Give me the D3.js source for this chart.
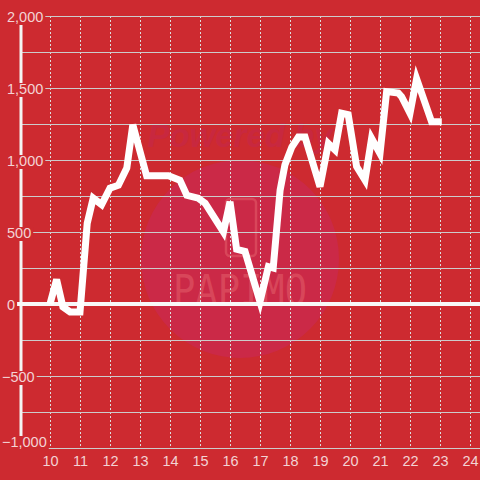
<!DOCTYPE html>
<html>
<head>
<meta charset="utf-8">
<script src="https://cdn.jsdelivr.net/npm/d3@7"></script>
<style>
  html, body { margin: 0; padding: 0; background: #cd2a30; }
  svg { display: block; }
</style>
</head>
<body>
<div id="chart"></div>
<script>
// hours of the day and running value
const times = [10.0, 10.22, 10.43, 10.67, 11.0, 11.24, 11.44, 11.72, 12.0, 12.28, 12.56, 12.76,
  13.22, 13.95, 14.33, 14.56, 14.94, 15.17, 15.78, 16.0, 16.22, 16.5, 17.0, 17.28, 17.44,
  17.67, 17.83, 18.06, 18.28, 18.5, 19.0, 19.28, 19.5, 19.72, 19.94, 20.22, 20.5, 20.72,
  21.0, 21.22, 21.61, 21.72, 22.0, 22.22, 22.72, 23.06]
const values = [0, 170, -20, -55, -55, 560, 735, 690, 805, 825, 945, 1245,
  890, 890, 860, 755, 735, 700, 500, 710, 380, 365, 15, 260, 250,
  790, 965, 1090, 1160, 1160, 815, 1115, 1070, 1325, 1315, 955, 860, 1150,
  1045, 1475, 1465, 1440, 1325, 1565, 1265, 1265]

const xTicks = [10, 11, 12, 13, 14, 15, 16, 17, 18, 19, 20, 21, 22, 23, 24]
const yTicks = [-1000, -500, 0, 500, 1000, 1500, 2000]
const yGrid = [-1000, -750, -500, -250, 0, 250, 500, 750, 1000, 1250, 1500, 1750, 2000]

const width = 480
const height = 480
const bg = '#cd2a30'

const x = d3.scaleLinear().domain([10, 24]).range([50, 470])
const y = d3.scaleLinear().domain([-1000, 2000]).range([448, 16])

const svg = d3.select('#chart').append('svg')
  .attr('width', width)
  .attr('height', height)
  .attr('xmlns', 'http://www.w3.org/2000/svg')

svg.append('rect').attr('width', width).attr('height', height).attr('fill', bg)

// --- watermark ---
const wm = svg.append('g')
wm.append('circle').attr('cx', 240).attr('cy', 259).attr('r', 99).attr('fill', '#cb2947')
wm.append('text')
  .attr('x', 240).attr('y', 147)
  .attr('text-anchor', 'middle')
  .attr('font-family', 'Liberation Sans, Arial, sans-serif')
  .attr('font-size', 33).attr('font-weight', 'bold').attr('font-style', 'italic')
  .attr('fill', '#c8283f')
  .text('Powered by')
wm.append('rect')
  .attr('x', 226).attr('y', 199).attr('width', 30).attr('height', 57).attr('rx', 4)
  .attr('fill', 'none').attr('stroke', '#d8465a').attr('stroke-width', 2.5)
wm.append('text')
  .attr('x', 240).attr('y', 305)
  .attr('text-anchor', 'middle')
  .attr('font-family', 'DejaVu Sans Mono, monospace')
  .attr('font-size', 42)
  .attr('textLength', 134).attr('lengthAdjust', 'spacingAndGlyphs')
  .attr('fill', '#d8465a')
  .text('PAPIMO')

// --- grid ---
svg.append('g').selectAll('line')
  .data(xTicks)
  .join('line')
    .attr('x1', d => x(d) + 0.5).attr('x2', d => x(d) + 0.5)
    .attr('y1', y(2000)).attr('y2', y(-1000))
    .attr('stroke', '#dddddd').attr('stroke-width', 1)
    .attr('stroke-dasharray', '2,2')

svg.append('g').selectAll('line')
  .data(yGrid.filter(d => d !== 0))
  .join('line')
    .attr('x1', 21).attr('x2', width)
    .attr('y1', d => y(d) + 0.5).attr('y2', d => y(d) + 0.5)
    .attr('stroke', '#cccccc').attr('stroke-width', 1)

// left axis line
svg.append('line')
  .attr('x1', 21).attr('x2', 21)
  .attr('y1', y(2000)).attr('y2', y(-1000))
  .attr('stroke', '#f4f4f4').attr('stroke-width', 3)

// zero line
svg.append('line')
  .attr('x1', 17).attr('x2', width)
  .attr('y1', y(0)).attr('y2', y(0))
  .attr('stroke', '#f8f8f8').attr('stroke-width', 4)

// --- y labels with background boxes ---
const fmt = d3.format(',')
const yLab = svg.append('g')
  .attr('font-family', 'Liberation Sans, Arial, sans-serif')
  .attr('font-size', 14.5)
  .attr('fill', '#f3d3d4')

yTicks.forEach(function(v) {
  const cy = v === -1000 ? y(v) - 6 : y(v) + 1
  const t = yLab.append('text')
    .attr('x', v < 0 ? 2 : 7)
    .attr('y', cy)
    .attr('dy', '0.36em')
    .text(fmt(v))
  const bb = t.node().getBBox()
  yLab.insert('rect', 'text')
    .attr('x', bb.x - 2).attr('y', cy - 6)
    .attr('width', bb.width + 4).attr('height', 14)
    .attr('fill', bg)
})

// --- x labels ---
svg.append('g')
  .attr('font-family', 'Liberation Sans, Arial, sans-serif')
  .attr('font-size', 14.5)
  .attr('fill', '#f3d3d4')
  .attr('text-anchor', 'middle')
  .selectAll('text')
  .data(xTicks)
  .join('text')
    .attr('x', d => x(d) + 0.5)
    .attr('y', 466)
    .text(d => d)

// --- series ---
const points = times.map((t, i) => [t, values[i]])
const line = d3.line().x(d => x(d[0])).y(d => y(d[1]))

svg.append('path')
  .datum(points)
  .attr('d', line)
  .attr('fill', 'none')
  .attr('stroke', '#ffffff')
  .attr('stroke-width', 7)
  .attr('stroke-linejoin', 'miter')
</script>
</body>
</html>
